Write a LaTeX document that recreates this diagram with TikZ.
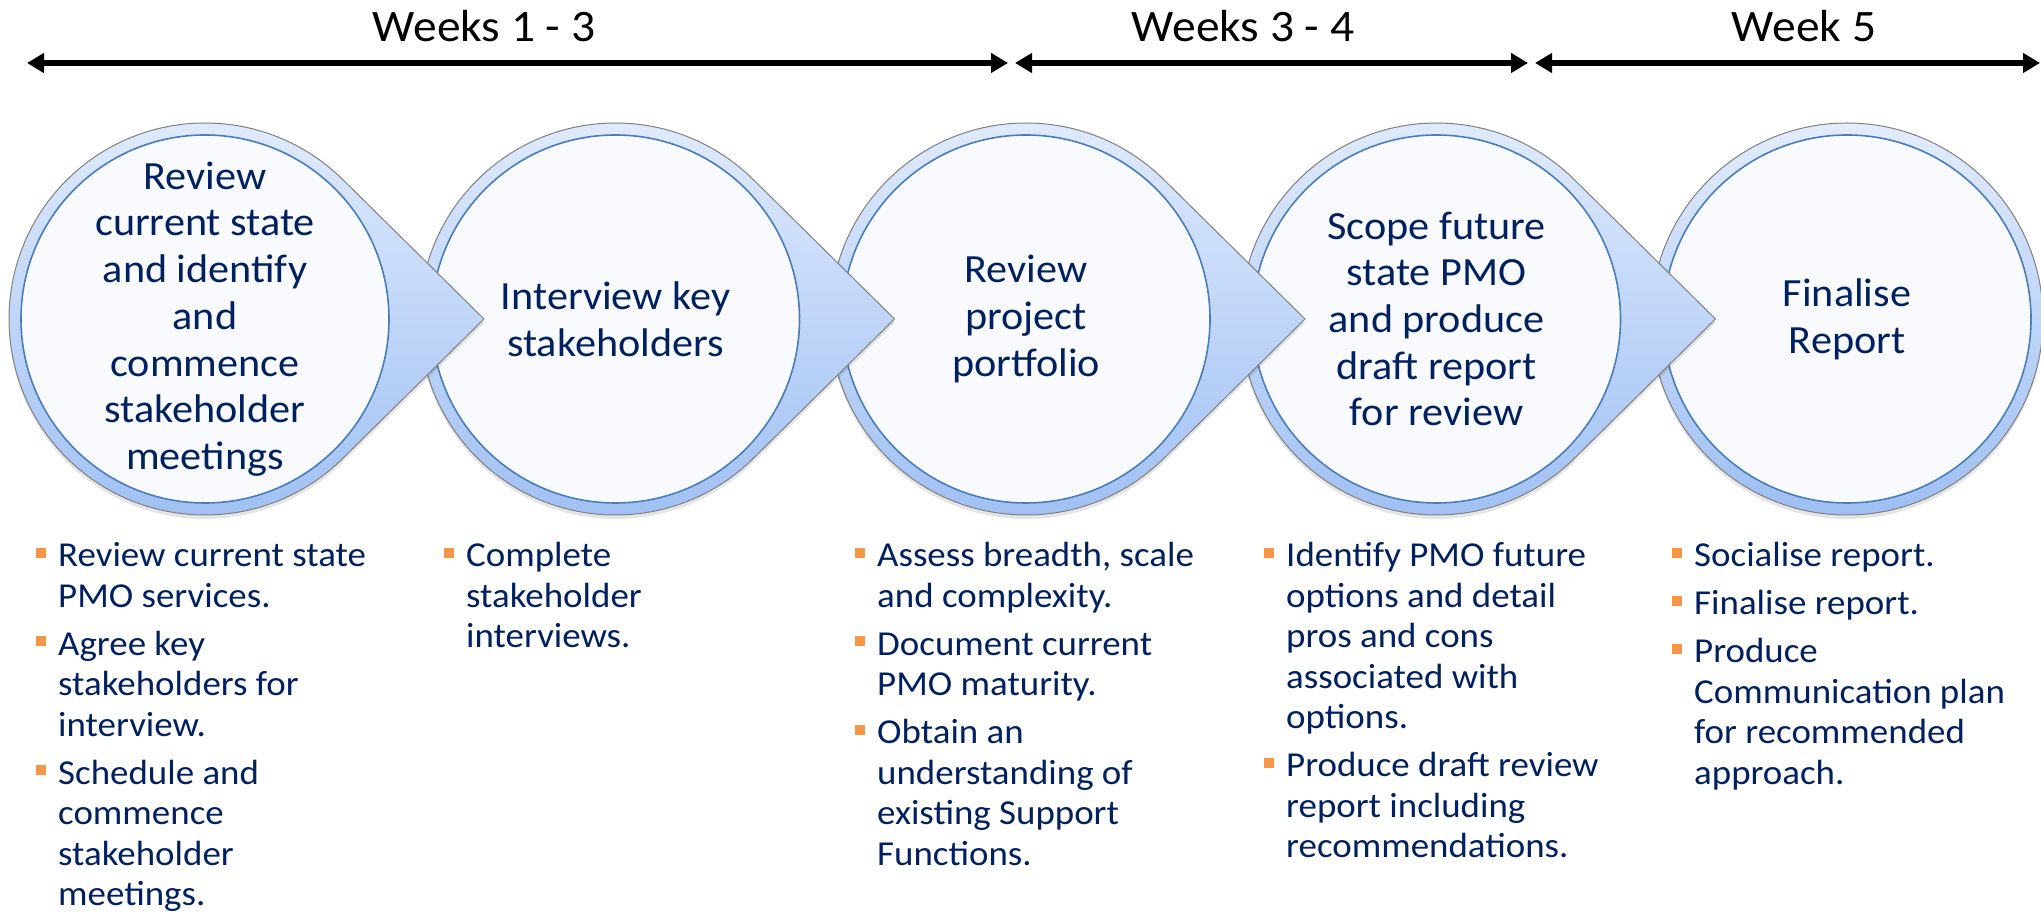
\documentclass[tikz,border=0pt]{standalone}
\usepackage{fontspec}
\setmainfont[FakeStretch=1.055]{Carlito}
\usetikzlibrary{arrows.meta}
\definecolor{navy}{RGB}{0,32,96}
\definecolor{borange}{RGB}{247,150,70}
\definecolor{ringtop}{RGB}{226,236,253}
\definecolor{ringbot}{RGB}{158,191,243}
\definecolor{innerfill}{RGB}{248,250,254}
\definecolor{innerline}{RGB}{74,126,187}
\definecolor{outlinegray}{RGB}{128,128,128}
\newcommand\bsetup{\raggedright\setlength{\parskip}{7.5pt}\setlength{\parindent}{0pt}}
\newcommand\bitem[1]{\leavevmode\llap{\textcolor{borange}{\rule[9pt]{10pt}{10pt}}\hspace{12pt}}#1\par}
\tikzset{
  weektext/.style={font=\fontsize{45}{54}\selectfont, anchor=base, inner sep=0, text=black},
  timeline/.style={line width=6.5pt, {Triangle[length=17pt,width=19pt]}-{Triangle[length=17pt,width=19pt]}},
  steptext/.style={font=\fontsize{40}{46.7}\selectfont, text=navy, align=center, inner sep=0},
  bullettext/.style={anchor=base west, inner sep=0, text=navy, font=\fontsize{35}{40.5}\selectfont},
  ringshape/.style={top color=ringtop, bottom color=ringbot, draw=outlinegray, line width=1pt},
  innercircle/.style={fill=innerfill, draw=innerline, line width=1.6pt},
  shadowshape/.style={fill=black, opacity=0.1},
}
\begin{document}
\begin{tikzpicture}[x=1pt,y=1pt]
\useasboundingbox (0,0) rectangle (2041,913);
\fill[white] (0,0) rectangle (2041,913);

% timeline
\coordinate (a1l) at (27,850);
\coordinate (a1r) at (1008,850);
\coordinate (a2l) at (1015,850);
\coordinate (a2r) at (1528,850);
\coordinate (a3l) at (1535,850);
\coordinate (a3r) at (2040,850);
\draw[timeline] (a1l) -- (a1r);
\draw[timeline] (a2l) -- (a2r);
\draw[timeline] (a3l) -- (a3r);
\node[weektext] (w1) at (484,871) {Weeks 1 - 3};
\node[weektext] (w2) at (1243,871) {Weeks 3 - 4};
\node[weektext] (w3) at (1804,871) {Week 5};

% last circle (no tip)
\fill[shadowshape] (1847,590) circle[radius=196];
\shade[ringshape] (1847,594) circle[radius=196];
\filldraw[innercircle] (1847,594) circle[radius=184];

% teardrops, drawn right to left so each tip lies over the next circle
\foreach \cx in {1436.5,1026,615.5,205} {
  \fill[shadowshape] (\cx,590) ++(45.37:196) arc[start angle=45.37,end angle=314.63,radius=196] -- (\cx+279,590) -- cycle;
  \shade[ringshape] (\cx,594) ++(45.37:196) arc[start angle=45.37,end angle=314.63,radius=196] -- (\cx+279,594) -- cycle;
  \filldraw[innercircle] (\cx,594) circle[radius=184];
}

% step labels
\node[steptext] (s1) at (205,594) {Review\\current state\\and identify\\and\\commence\\stakeholder\\meetings};
\node[steptext] (s2) at (615.5,594) {Interview key\\stakeholders};
\node[steptext] (s3) at (1026,594) {Review\\project\\portfolio};
\node[steptext] (s4) at (1436.5,594) {Scope future\\state PMO\\and produce\\draft report\\for review};
\node[steptext] (s5) at (1847,594) {Finalise\\Report};

% bullet columns
\node[bullettext] (b1) at (58,346) {\parbox[t]{340pt}{\bsetup
  \bitem{Review current state\\PMO services.}
  \bitem{Agree key\\stakeholders for\\interview.}
  \bitem{Schedule and\\commence\\stakeholder\\meetings.}}};
\node[bullettext] (b2) at (466,346) {\parbox[t]{300pt}{\bsetup
  \bitem{Complete\\stakeholder\\interviews.}}};
\node[bullettext] (b3) at (877,346) {\parbox[t]{360pt}{\bsetup
  \bitem{Assess breadth, scale\\and complexity.}
  \bitem{Document current\\PMO maturity.}
  \bitem{Obtain an\\understanding of\\existing Support\\Functions.}}};
\node[bullettext] (b4) at (1286,346) {\parbox[t]{360pt}{\bsetup
  \bitem{Identify PMO future\\options and detail\\pros and cons\\associated with\\options.}
  \bitem{Produce draft review\\report including\\recommendations.}}};
\node[bullettext] (b5) at (1694,346) {\parbox[t]{340pt}{\bsetup
  \bitem{Socialise report.}
  \bitem{Finalise report.}
  \bitem{Produce\\Communication plan\\for recommended\\approach.}}};
\end{tikzpicture}
\end{document}
